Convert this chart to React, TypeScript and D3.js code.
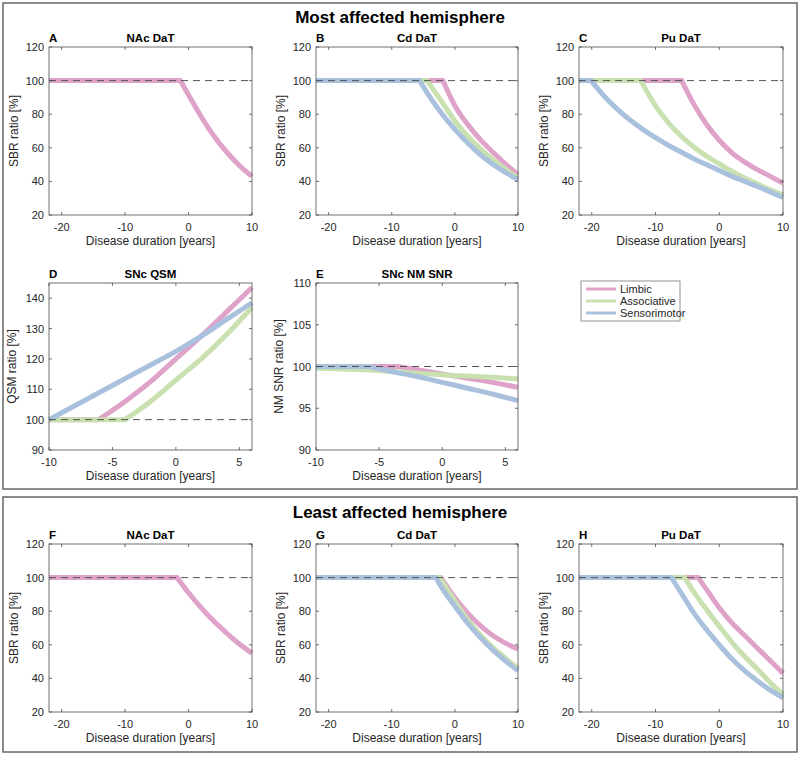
import React from 'react';
import * as d3 from 'd3';

type Pt = [number, number];

const seriesNames = ['Limbic', 'Associative', 'Sensorimotor'];
const seriesColors = ['#dfa3ca', '#c9e0b0', '#aac1de'];

const datXTicks = [-20, -10, 0, 10];
const snXTicks = [-10, -5, 0, 5];
const sbrYTicks = [20, 40, 60, 80, 100, 120];
const qsmYTicks = [90, 100, 110, 120, 130, 140];
const nmYTicks = [90, 95, 100, 105, 110];

// Most affected hemisphere
const A_limbic: Pt[] = [[-22, 100], [-1.3, 100], [0, 91.5], [2, 78.5], [4, 67], [6, 57.5], [8, 49.5], [10, 43]];

const B_limbic: Pt[] = [[-22, 100], [-1.9, 100], [0, 85], [2, 74], [4, 65], [6, 57.5], [8, 50.5], [10, 44]];
const B_assoc: Pt[] = [[-22, 100], [-4.4, 100], [-2, 87], [0, 76], [2, 67], [4, 59.5], [6, 53], [8, 47.3], [10, 42]];
const B_sensori: Pt[] = [[-22, 100], [-5.6, 100], [-4, 90.5], [-2, 80], [0, 71], [2, 63], [4, 56], [6, 50.3], [8, 45.3], [10, 41]];

const C_limbic: Pt[] = [[-22, 100], [-5.9, 100], [-4, 86], [-2, 74], [0, 64.5], [2, 57], [4, 51.5], [6, 47], [8, 43], [10, 39]];
const C_assoc: Pt[] = [[-22, 100], [-12.3, 100], [-10, 85], [-8, 75], [-6, 67], [-4, 60.5], [-2, 55], [0, 50.5], [2, 46], [4, 42], [6, 38.5], [8, 35], [10, 32]];
const C_sensori: Pt[] = [[-22, 100], [-20.1, 100], [-18, 90.5], [-16, 83], [-14, 76.5], [-12, 71], [-10, 66], [-8, 61.5], [-6, 57.5], [-4, 53.5], [-2, 50], [0, 46.5], [2, 43], [4, 40], [6, 37], [8, 33.7], [10, 30.5]];

const D_limbic: Pt[] = [[-10, 100], [-6.1, 100], [-4, 106], [-2, 112.5], [0, 120], [2, 127.5], [4, 135.5], [6, 143.5]];
const D_assoc: Pt[] = [[-10, 100], [-4, 100], [-2, 106], [0, 113], [2, 120], [4, 128], [6, 137]];
const D_sensori: Pt[] = [[-10, 100], [-8, 104.5], [-6, 109], [-4, 113.5], [-2, 118], [0, 122.5], [2, 127.5], [4, 133], [6, 138.5]];

const E_limbic: Pt[] = [[-10, 100], [-3.5, 100], [0, 99.1], [2, 98.6], [4, 98.1], [6, 97.5]];
const E_assoc: Pt[] = [[-10, 99.8], [-8, 99.7], [-6, 99.6], [-4, 99.4], [-2, 99.2], [0, 99.0], [2, 98.85], [4, 98.7], [6, 98.5]];
const E_sensori: Pt[] = [[-10, 100], [-5.8, 100], [-4, 99.4], [-2, 98.8], [0, 98.1], [2, 97.4], [4, 96.7], [6, 95.9]];

// Least affected hemisphere
const F_limbic: Pt[] = [[-22, 100], [-1.8, 100], [0, 91], [2, 82], [4, 74], [6, 67], [8, 60.5], [10, 55]];

const G_limbic: Pt[] = [[-22, 100], [-2.2, 100], [0, 88], [2, 79], [4, 71.5], [6, 65.5], [8, 61], [10, 57.5]];
const G_assoc: Pt[] = [[-22, 100], [-2.4, 100], [0, 86], [2, 75], [4, 66], [6, 58.5], [8, 52], [10, 46]];
const G_sensori: Pt[] = [[-22, 100], [-3, 100], [-2, 93.5], [0, 83], [2, 73], [4, 64.5], [6, 57], [8, 50.5], [10, 44.5]];

const H_limbic: Pt[] = [[-22, 100], [-3.3, 100], [-2, 93], [0, 82], [2, 73], [4, 65.5], [6, 58], [8, 50.5], [10, 43]];
const H_assoc: Pt[] = [[-22, 100], [-5.4, 100], [-4, 91.5], [-2, 81], [0, 71], [2, 61.5], [4, 53], [6, 45.5], [8, 37.5], [10, 30.5]];
const H_sensori: Pt[] = [[-22, 100], [-7.5, 100], [-6, 91], [-4, 79], [-2, 69], [0, 60], [2, 51.5], [4, 44.5], [6, 38.5], [8, 33], [10, 28.5]];

const FONT = '"Liberation Sans", Arial, Helvetica, sans-serif';
const AXIS = '#4d4d4d';
const TEXT = '#262626';

interface PanelProps {
  left: number; top: number; right: number; bottom: number;
  xDomain: [number, number]; yDomain: [number, number];
  xTicks: number[]; yTicks: number[];
  letter: string; title: string; ylabel: string; ylabelOffset: number;
  series: (Pt[] | null)[];
}

function buildPath(data: Pt[], x: d3.ScaleLinear<number, number>, y: d3.ScaleLinear<number, number>): string {
  // flat leading segment drawn straight, remaining part smooth
  if (data.length > 2 && data[0][1] === data[1][1]) {
    const flat = `M${x(data[0][0])},${y(data[0][1])}L${x(data[1][0])},${y(data[1][1])}`;
    const rest = d3.line<Pt>().x(d => x(d[0])).y(d => y(d[1])).curve(d3.curveMonotoneX)(data.slice(1)) || '';
    return flat + 'L' + rest.slice(1);
  }
  return d3.line<Pt>().x(d => x(d[0])).y(d => y(d[1])).curve(d3.curveMonotoneX)(data) || '';
}

function Panel(p: PanelProps) {
  const x = d3.scaleLinear().domain(p.xDomain).range([p.left, p.right]);
  const y = d3.scaleLinear().domain(p.yDomain).range([p.bottom, p.top]);
  const tl = 3;
  const midX = (p.left + p.right) / 2;
  return (
    <g>
      <rect x={p.left} y={p.top} width={p.right - p.left} height={p.bottom - p.top} fill="#fff" />
      {p.series.map((s, i) => s ? (
        <path key={i} d={buildPath(s, x, y)} fill="none" stroke={seriesColors[i]} strokeWidth={5} strokeLinejoin="round" />
      ) : null)}
      <line x1={p.left} x2={p.right} y1={y(100)} y2={y(100)} stroke="#555" strokeWidth={1} strokeDasharray="7,5" />
      <rect x={p.left} y={p.top} width={p.right - p.left} height={p.bottom - p.top} fill="none" stroke={AXIS} strokeWidth={0.8} />
      {p.xTicks.map(t => (
        <g key={'x' + t}>
          <line x1={x(t)} x2={x(t)} y1={p.bottom} y2={p.bottom - tl} stroke={AXIS} strokeWidth={0.8} />
          <line x1={x(t)} x2={x(t)} y1={p.top} y2={p.top + tl} stroke={AXIS} strokeWidth={0.8} />
          <text x={x(t)} y={p.bottom + 16} textAnchor="middle" fontSize={11} fill={TEXT} fontFamily={FONT}>{t}</text>
        </g>
      ))}
      {p.yTicks.map(t => (
        <g key={'y' + t}>
          <line x1={p.left} x2={p.left + tl} y1={y(t)} y2={y(t)} stroke={AXIS} strokeWidth={0.8} />
          <line x1={p.right} x2={p.right - tl} y1={y(t)} y2={y(t)} stroke={AXIS} strokeWidth={0.8} />
          <text x={p.left - 5} y={y(t) + 4} textAnchor="end" fontSize={11} fill={TEXT} fontFamily={FONT}>{t}</text>
        </g>
      ))}
      <text x={midX} y={p.bottom + 30} textAnchor="middle" fontSize={12} fill={TEXT} fontFamily={FONT}>Disease duration [years]</text>
      <text transform={`translate(${p.left - p.ylabelOffset},${(p.top + p.bottom) / 2}) rotate(-90)`} textAnchor="middle" fontSize={12} fill={TEXT} fontFamily={FONT}>{p.ylabel}</text>
      <text x={p.left} y={p.top - 5} fontSize={11.5} fontWeight="bold" fill="#000" fontFamily={FONT}>{p.letter}</text>
      <text x={midX} y={p.top - 5} textAnchor="middle" fontSize={11.5} fontWeight="bold" fill="#000" fontFamily={FONT}>{p.title}</text>
    </g>
  );
}

const cols: [number, number][] = [[49, 252], [316, 518], [579, 783]];
const rows: [number, number][] = [[47, 215], [283, 450], [544, 712]];

export default function App() {
  const datX: [number, number] = [-22, 10];
  const snX: [number, number] = [-10, 6];
  const sbrY: [number, number] = [20, 120];
  const panel = (r: number, c: number) => ({ left: cols[c][0], right: cols[c][1], top: rows[r][0], bottom: rows[r][1] });
  return (
    <svg width={800} height={757} style={{ position: 'absolute', left: 0, top: 0, background: '#fff' }}>
      <rect x={0} y={0} width={800} height={757} fill="#fff" />
      <rect x={3} y={3} width={794} height={486} fill="none" stroke="#666" strokeWidth={1.5} />
      <rect x={3} y={497} width={794} height={255} fill="none" stroke="#666" strokeWidth={1.5} />
      <text x={400} y={23} textAnchor="middle" fontSize={17} fontWeight="bold" fill="#000" fontFamily={FONT}>Most affected hemisphere</text>
      <text x={400} y={518} textAnchor="middle" fontSize={17} fontWeight="bold" fill="#000" fontFamily={FONT}>Least affected hemisphere</text>

      <Panel {...panel(0, 0)} xDomain={datX} yDomain={sbrY} xTicks={datXTicks} yTicks={sbrYTicks} letter="A" title="NAc DaT" ylabel="SBR ratio [%]" ylabelOffset={31} series={[A_limbic, null, null]} />
      <Panel {...panel(0, 1)} xDomain={datX} yDomain={sbrY} xTicks={datXTicks} yTicks={sbrYTicks} letter="B" title="Cd DaT" ylabel="SBR ratio [%]" ylabelOffset={31} series={[B_limbic, B_assoc, B_sensori]} />
      <Panel {...panel(0, 2)} xDomain={datX} yDomain={sbrY} xTicks={datXTicks} yTicks={sbrYTicks} letter="C" title="Pu DaT" ylabel="SBR ratio [%]" ylabelOffset={31} series={[C_limbic, C_assoc, C_sensori]} />
      <Panel {...panel(1, 0)} xDomain={snX} yDomain={[90, 145]} xTicks={snXTicks} yTicks={qsmYTicks} letter="D" title="SNc QSM" ylabel="QSM ratio [%]" ylabelOffset={33} series={[D_limbic, D_assoc, D_sensori]} />
      <Panel {...panel(1, 1)} xDomain={snX} yDomain={[90, 110]} xTicks={snXTicks} yTicks={nmYTicks} letter="E" title="SNc NM SNR" ylabel="NM SNR ratio [%]" ylabelOffset={33} series={[E_limbic, E_assoc, E_sensori]} />
      <Panel {...panel(2, 0)} xDomain={datX} yDomain={sbrY} xTicks={datXTicks} yTicks={sbrYTicks} letter="F" title="NAc DaT" ylabel="SBR ratio [%]" ylabelOffset={31} series={[F_limbic, null, null]} />
      <Panel {...panel(2, 1)} xDomain={datX} yDomain={sbrY} xTicks={datXTicks} yTicks={sbrYTicks} letter="G" title="Cd DaT" ylabel="SBR ratio [%]" ylabelOffset={31} series={[G_limbic, G_assoc, G_sensori]} />
      <Panel {...panel(2, 2)} xDomain={datX} yDomain={sbrY} xTicks={datXTicks} yTicks={sbrYTicks} letter="H" title="Pu DaT" ylabel="SBR ratio [%]" ylabelOffset={31} series={[H_limbic, H_assoc, H_sensori]} />

      <g>
        <rect x={581} y={281} width={99} height={40} fill="#fff" stroke="#777" strokeWidth={0.8} />
        {seriesNames.map((n, i) => (
          <g key={n}>
            <line x1={586} x2={616} y1={289 + i * 12} y2={289 + i * 12} stroke={seriesColors[i]} strokeWidth={3} />
            <text x={620} y={293 + i * 12} fontSize={11} fill={TEXT} fontFamily={FONT}>{n}</text>
          </g>
        ))}
      </g>
    </svg>
  );
}
